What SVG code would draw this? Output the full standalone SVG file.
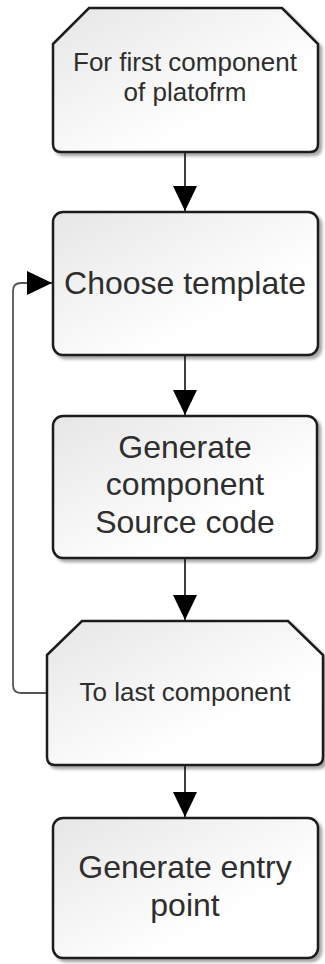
<svg xmlns="http://www.w3.org/2000/svg" width="325" height="964" viewBox="0 0 325 964">
<defs>
<linearGradient id="g" x1="0" y1="0" x2="1" y2="1">
<stop offset="0" stop-color="#e6e6e6"/>
<stop offset="0.65" stop-color="#fefefe"/>
<stop offset="1" stop-color="#ffffff"/>
</linearGradient>
<filter id="sh" x="-10%" y="-10%" width="130%" height="130%">
<feDropShadow dx="3" dy="3" stdDeviation="1.5" flood-color="#000" flood-opacity="0.35"/>
</filter>
<marker id="ah" markerUnits="userSpaceOnUse" markerWidth="26" markerHeight="26" viewBox="0 0 26 26" refX="25" refY="13" orient="auto">
<path d="M0,1 L25,13 L0,25 Z" fill="#000"/>
</marker>
</defs>
<style>
.n{fill:url(#g);stroke:#1e1e1e;stroke-width:2.5;filter:url(#sh)}
.t{font-family:"Liberation Sans",Arial,sans-serif;fill:#2e2e2e;text-anchor:middle}
.s{font-size:26px}
.b{font-size:32px}
.c{fill:none;stroke:#2a2a2a;stroke-width:1.8}
</style>
<g id="connectors">
<line class="c" x1="185" y1="153" x2="185" y2="211" marker-end="url(#ah)"/>
<line class="c" x1="185" y1="356" x2="185" y2="415" marker-end="url(#ah)"/>
<line class="c" x1="185" y1="559" x2="185" y2="620" marker-end="url(#ah)"/>
<line class="c" x1="185" y1="766" x2="185" y2="817" marker-end="url(#ah)"/>
<path class="c" style="stroke:#555" d="M47,693 L21,693 Q13,693 13,685 L13,291 Q13,283 21,283 L52,283" marker-end="url(#ah)"/>
</g>
<g id="node1">
<path class="n" d="M53,44 L89,8 L282,8 L318,44 L318,144 Q318,152 310,152 L61,152 Q53,152 53,144 Z"/>
<text class="t s" x="185" y="71">For first component</text>
<text class="t s" x="185" y="101">of platofrm</text>
</g>
<g id="node2">
<rect class="n" x="53" y="212" width="265" height="143" rx="10"/>
<text class="t b" x="185" y="294">Choose template</text>
</g>
<g id="node3">
<rect class="n" x="53" y="416" width="264" height="142" rx="10"/>
<text class="t b" x="185" y="458">Generate</text>
<text class="t b" x="185" y="495">component</text>
<text class="t b" x="185" y="533">Source code</text>
</g>
<g id="node4">
<path class="n" d="M47,655 L82,621 L288,621 L323,655 L323,757 Q323,765 315,765 L55,765 Q47,765 47,757 Z"/>
<text class="t s" x="185" y="701">To last component</text>
</g>
<g id="node5">
<rect class="n" x="53" y="818" width="265" height="140" rx="10"/>
<text class="t b" x="185" y="878">Generate entry</text>
<text class="t b" x="185" y="916">point</text>
</g>
</svg>
